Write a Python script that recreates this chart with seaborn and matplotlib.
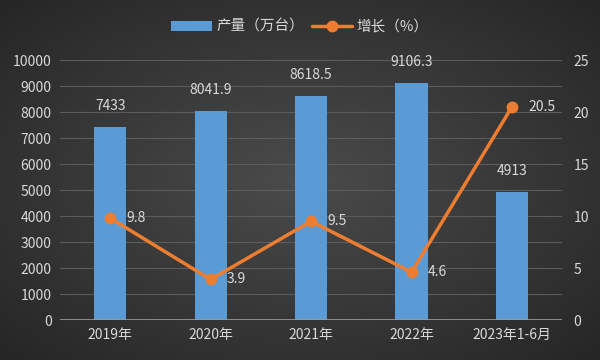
import numpy as np
import matplotlib
matplotlib.use("Agg")
import matplotlib.pyplot as plt
import seaborn as sns
import pandas as pd

# data
years = ["2019年", "2020年", "2021年", "2022年", "2023年1-6月"]
output = [7433, 8041.9, 8618.5, 9106.3, 4913]
growth = [9.8, 3.9, 9.5, 4.6, 20.5]
output_labels = ["7433", "8041.9", "8618.5", "9106.3", "4913"]
growth_labels = ["9.8", "3.9", "9.5", "4.6", "20.5"]

sns.set_style("dark")
plt.rcParams['font.family'] = ['Noto Sans CJK SC', 'DejaVu Sans']

txt = "#d9d9d9"
blue = "#5b9bd5"
orange = "#ed7d31"

fig = plt.figure(figsize=(6, 3.6), dpi=100)

# dark radial background
bg = fig.add_axes([0, 0, 1, 1], zorder=-10)
yy, xx = np.mgrid[-1:1:200j, -1:1:300j]
r = np.sqrt(xx ** 2 + yy ** 2)
bg.imshow(r, cmap=matplotlib.colors.LinearSegmentedColormap.from_list(
    "bg", ["#4b4b4b", "#262626"]), aspect="auto", extent=[0, 1, 0, 1], vmin=0, vmax=1.4)
bg.axis("off")

ax = fig.add_axes([0.1, 0.111, 0.837, 0.722])
ax.patch.set_alpha(0)

df = pd.DataFrame({"year": years, "output": output, "growth": growth})
sns.barplot(data=df, x="year", y="output", color=blue, width=0.32,
            saturation=1, ax=ax, label="产量（万台）", zorder=2,
            edgecolor="none", linewidth=0)
ax.legend_ = None
ax.set_ylim(0, 10000)
ax.set_yticks(range(0, 10001, 1000))
ax.set_xlim(-0.5, 4.5)
ax.set_xlabel("")
ax.set_ylabel("")
for i, (v, s) in enumerate(zip(output, output_labels)):
    ax.text(i, v + 550, s, ha="center", va="bottom", color=txt, fontsize=10)

ax.grid(axis="y", color="#5c5c5c", linewidth=0.8)
ax.grid(axis="x", visible=False)
for sp in ax.spines.values():
    sp.set_visible(False)
ax.axhline(0, color="#9a9a9a", linewidth=1.2, zorder=3)
ax.tick_params(axis="both", colors=txt, labelsize=10, length=0, pad=6)

ax2 = ax.twinx()
ax2.patch.set_alpha(0)
ax2.plot(range(len(years)), growth, color=orange, linewidth=2.5,
         marker="o", markersize=7.5, label="增长（%）", zorder=4)
ax2.set_ylim(0, 25)
ax2.set_yticks(range(0, 26, 5))
for sp in ax2.spines.values():
    sp.set_visible(False)
ax2.tick_params(axis="y", colors=txt, labelsize=10, length=0, pad=8)
ax2.grid(False)
for i, (v, s) in enumerate(zip(growth, growth_labels)):
    ax2.text(i + 0.16, v, s, ha="left", va="center", color=txt, fontsize=10)

h1, l1 = ax.get_legend_handles_labels()
h2, l2 = ax2.get_legend_handles_labels()
fig.legend(h1 + h2, l1 + l2, loc="center", bbox_to_anchor=(0.5, 0.925), ncol=2,
           frameon=False, labelcolor=txt, fontsize=10.5, handlelength=2.8,
           columnspacing=0.5, handletextpad=0.3)

fig.savefig("out.png", dpi=100)
